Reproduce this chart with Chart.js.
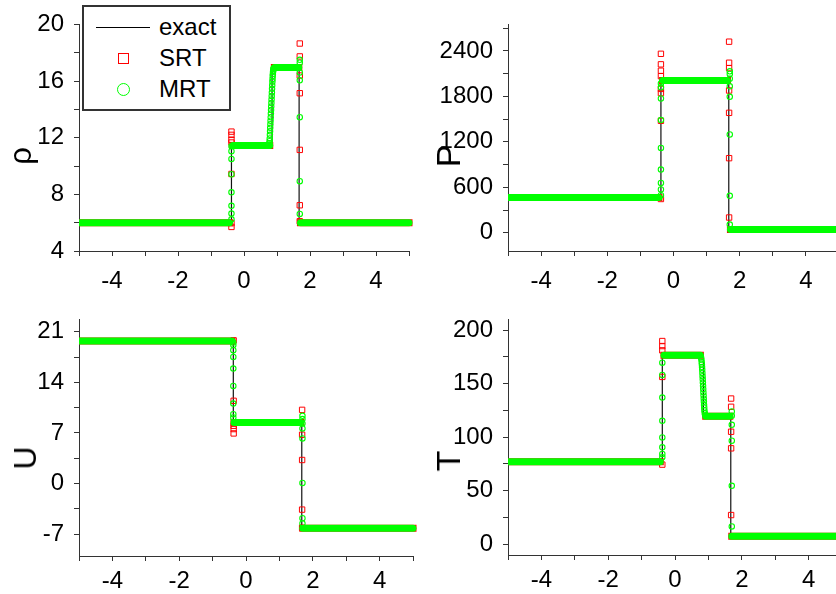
<!DOCTYPE html>
<html>
<head>
<meta charset="utf-8">
<script src="https://cdn.jsdelivr.net/npm/chart.js@4.4.1/dist/chart.umd.min.js"></script>
<style>
  html, body { margin: 0; padding: 0; background: #fff; overflow: hidden; }
  #page { position: relative; width: 836px; height: 594px; overflow: hidden;
          font-family: "Liberation Sans", Arial, sans-serif; color: #000; }
  canvas { position: absolute; }
  .ytitle { position: absolute; line-height: 1; white-space: nowrap;
            transform: translate(-50%, -50%) rotate(-90deg); }
  .lg { position: absolute; }
  .lg-txt { position: absolute; font-size: 24px; line-height: 24px; white-space: nowrap; }
</style>
</head>
<body>
<div id="page">
  <canvas id="cRho" width="420" height="295" style="left:0;top:0"></canvas>
  <canvas id="cP" width="430" height="295" style="left:420px;top:0"></canvas>
  <canvas id="cU" width="420" height="299" style="left:0;top:295px"></canvas>
  <canvas id="cT" width="430" height="299" style="left:420px;top:295px"></canvas>

  <div class="ytitle" style="left:20px;top:156px;font-size:31px">ρ</div>
  <div class="ytitle" style="left:448px;top:156px;font-size:34px">P</div>
  <div class="ytitle" style="left:25px;top:458px;font-size:32px">U</div>
  <div class="ytitle" style="left:448px;top:461px;font-size:34px">T</div>

  <div class="lg" style="left:82px;top:5px;width:149px;height:106px;border:2px solid #333;box-sizing:border-box;background:#fff"></div>
  <div class="lg" style="left:96px;top:27px;width:54px;border-top:1px solid #000"></div>
  <span class="lg-txt" style="left:159px;top:15px">exact</span>
  <div class="lg" style="left:118px;top:53px;width:11px;height:11px;border:1px solid #ff0000;box-sizing:border-box"></div>
  <span class="lg-txt" style="left:159px;top:46px">SRT</span>
  <div class="lg" style="left:117px;top:83px;width:13px;height:13px;border:1.3px solid #00ff00;border-radius:50%;box-sizing:border-box"></div>
  <span class="lg-txt" style="left:159px;top:77px">MRT</span>
</div>
<script>
// tick positions (major + minor)
const xTicks = [-5, -4, -3, -2, -1, 0, 1, 2, 3, 4, 5];
const rhoTicks = [4, 6, 8, 10, 12, 14, 16, 18, 20];
const pTicks = [0, 300, 600, 900, 1200, 1500, 1800, 2100, 2400, 2700];
const uTicks = [-7, -3.5, 0, 3.5, 7, 10.5, 14, 17.5, 21];
const tTicks = [0, 25, 50, 75, 100, 125, 150, 175, 200];

// ---- density rho ----
const rhoExactX = [-5, -0.38, -0.38, 0.85, 0.85, 1.67, 1.67, 5];
const rhoExactY = [6.0, 6.0, 11.45, 11.45, 16.95, 16.95, 6.0, 6.0];
const rhoBands = [[-5, -0.44, 6.0], [-0.34, 0.78, 11.45], [0.92, 1.66, 16.95], [1.71, 5, 6.0]];
const rhoMrtX = [-0.38, -0.38, -0.38, -0.38, -0.38, -0.38, -0.38, -0.38,
  0.77, 0.775, 0.78, 0.785, 0.79, 0.795, 0.80, 0.805, 0.81, 0.815, 0.82, 0.825, 0.83, 0.835,
  0.84, 0.845, 0.85, 0.855, 0.86, 0.865, 0.87, 0.875, 0.88, 0.885, 0.89, 0.90,
  1.69, 1.69, 1.69, 1.69, 1.69, 1.69, 1.69];
const rhoMrtY = [6.24, 6.64, 7.19, 8.14, 9.42, 10.5, 11.05, 11.39,
  11.6, 11.75, 11.95, 12.2, 12.45, 12.7, 12.95, 13.2, 13.45, 13.7, 13.95, 14.2, 14.45, 14.7,
  14.95, 15.2, 15.45, 15.7, 15.95, 16.15, 16.35, 16.5, 16.65, 16.75, 16.85, 16.9,
  6.62, 8.93, 13.45, 16.05, 16.6, 17.3, 17.5];
const rhoSrtX = [-0.38, -0.38, -0.38, -0.38, -0.38, -0.38, -0.38,
  1.69, 1.69, 1.69, 1.69, 1.69, 1.69, 1.69];
const rhoSrtY = [5.7, 5.97, 9.44, 11.66, 11.86, 12.2, 12.43,
  6.1, 7.23, 11.14, 15.14, 16.39, 17.74, 18.65];

// ---- pressure P ----
const pExactX = [-5, -0.38, -0.38, 1.67, 1.67, 5];
const pExactY = [465, 465, 2010, 2010, 45, 45];
const pBands = [[-5, -0.44, 465], [-0.33, 1.63, 2010], [1.72, 5, 45]];
const pMrtX = [-0.38, -0.38, -0.38, -0.38, -0.38, -0.38, -0.38, -0.38, -0.38,
  1.70, 1.70, 1.70, 1.70, 1.70, 1.70, 1.70, 1.70];
const pMrtY = [497, 572, 657, 834, 1120, 1487, 1772, 1920, 1970,
  109, 488, 1297, 1794, 1933, 2034, 2097, 2131];
const pSrtX = [-0.38, -0.38, -0.38, -0.38, -0.38, -0.38, -0.38, -0.38,
  1.68, 1.68, 1.68, 1.68, 1.68, 1.68, 1.68];
const pSrtY = [446, 1478, 1844, 1899, 2067, 2139, 2223, 2362,
  202, 985, 1583, 1878, 2173, 2244, 2522];

// ---- velocity U ----
const uExactX = [-5, -0.38, -0.38, 1.67, 1.67, 5];
const uExactY = [19.7, 19.7, 8.45, 8.45, -6.15, -6.15];
const uBands = [[-5, -0.42, 19.7], [-0.36, 1.64, 8.45], [1.70, 5, -6.15]];
const uMrtX = [-0.38, -0.38, -0.38, -0.38, -0.38, -0.38, -0.38, -0.38, -0.38,
  1.69, 1.69, 1.69, 1.69, 1.69, 1.69, 1.69, 1.69];
const uMrtY = [19.5, 19.17, 18.44, 17.5, 15.9, 13.5, 11.07, 9.6, 9.14,
  9.38, 8.92, 8.32, 7.63, 6.25, 0.09, -4.78, -5.5];
const uSrtX = [-0.37, -0.37, -0.37, -0.37, -0.37, 1.68, 1.68, 1.68, 1.68, 1.68];
const uSrtY = [19.8, 11.45, 8.0, 7.54, 6.94, 10.2, 6.76, 3.27, -3.59, -6.1];

// ---- temperature T ----
const tExactX = [-5, -0.38, -0.38, 0.85, 0.85, 1.67, 1.67, 5];
const tExactY = [77, 77, 176.5, 176.5, 119.5, 119.5, 7.5, 7.5];
const tBands = [[-5, -0.44, 77], [-0.33, 0.76, 176.5], [0.92, 1.64, 119.5], [1.70, 5, 7.5]];
const tMrtX = [-0.38, -0.38, -0.38, -0.38, -0.38, -0.38, -0.38, -0.38,
  0.78, 0.79, 0.80, 0.805, 0.81, 0.815, 0.82, 0.825, 0.83, 0.835, 0.84, 0.845, 0.85,
  0.855, 0.86, 0.865, 0.87, 0.875, 0.88, 0.89, 0.90,
  1.70, 1.70, 1.70, 1.70, 1.70, 1.70];
const tMrtY = [81.2, 84.4, 90.5, 99.8, 115.3, 137, 158.1, 169.6,
  174.5, 172.5, 170, 168, 165.5, 163, 160, 157, 154, 151, 148, 145, 142,
  139, 136, 133, 130, 127.5, 125, 122.5, 121,
  16.7, 54.6, 96.7, 111.6, 120, 124];
const tSrtX = [-0.38, -0.38, -0.38, -0.38, -0.38, 1.68, 1.68, 1.68, 1.68, 1.68];
const tSrtY = [74.4, 156.3, 181.1, 185.1, 189.8, 27.3, 89.6, 105.1, 128.4, 136.1];

const GREEN = '#00ff00';
const RED = '#ff0000';
const AXIS = '#333333';

function pts(xs, ys) {
  return xs.map((x, i) => ({ x: x, y: ys[i] }));
}

function bandSets(bands, color, cap, order) {
  return bands.map(b => ({
    data: [{ x: b[0], y: b[2] }, { x: b[1], y: b[2] }],
    showLine: true,
    borderColor: color,
    borderWidth: 7,
    borderCapStyle: cap,
    pointRadius: 0,
    clip: { left: 0, right: 4, top: 10, bottom: 10 },
    order: order
  }));
}

function axisCommon(tickVals, labelFn, pad) {
  return {
    type: 'linear',
    border: { display: true, color: AXIS, width: 1 },
    grid: { drawOnChartArea: false, drawTicks: true, tickLength: 5, color: AXIS },
    afterBuildTicks: s => { s.ticks = tickVals.map(v => ({ value: v })); },
    ticks: {
      autoSkip: false,
      maxRotation: 0,
      minRotation: 0,
      padding: pad,
      color: '#000',
      font: { family: 'Liberation Sans', size: 24 },
      callback: labelFn
    }
  };
}

function makePanel(id, cfg) {
  const x = axisCommon(xTicks, v => (v % 2 === 0 && Math.abs(v) < 5) ? String(v) : '', cfg.xPad);
  x.min = -5;
  x.max = 5;
  x.position = 'bottom';
  x.afterFit = s => { s.height = cfg.xH; };

  const y = axisCommon(cfg.yTicks, cfg.yLabel, 10);
  y.min = cfg.yMin;
  y.max = cfg.yMax;
  y.position = 'left';
  y.afterFit = s => { s.width = cfg.yW; };

  const datasets = [
    {
      data: pts(cfg.exactX, cfg.exactY),
      showLine: true,
      borderColor: '#111',
      borderWidth: 1.2,
      pointRadius: 0,
      order: 6
    },
    ...bandSets(cfg.bands, RED, 'square', 5),
    {
      data: pts(cfg.srtX, cfg.srtY),
      pointStyle: 'rect',
      pointRadius: 3.8,
      borderColor: RED,
      backgroundColor: 'rgba(0,0,0,0)',
      borderWidth: 1,
      order: 4
    },
    ...bandSets(cfg.bands, GREEN, 'round', 3),
    {
      data: pts(cfg.mrtX, cfg.mrtY),
      pointStyle: 'circle',
      pointRadius: 2.7,
      borderColor: GREEN,
      backgroundColor: 'rgba(0,0,0,0)',
      borderWidth: 1.1,
      order: 2
    }
  ];

  return new Chart(document.getElementById(id), {
    type: 'scatter',
    data: { datasets: datasets },
    options: {
      responsive: false,
      animation: false,
      events: [],
      layout: { padding: { left: 0, bottom: 0, top: cfg.padTop, right: cfg.padRight } },
      plugins: { legend: { display: false }, tooltip: { enabled: false } },
      scales: { x: x, y: y }
    }
  });
}

makePanel('cRho', {
  exactX: rhoExactX, exactY: rhoExactY, bands: rhoBands,
  mrtX: rhoMrtX, mrtY: rhoMrtY, srtX: rhoSrtX, srtY: rhoSrtY,
  yMin: 4, yMax: 20, yTicks: rhoTicks, yLabel: v => v % 4 === 0 ? String(v) : '',
  yW: 79, xH: 44, padTop: 15, padRight: 7, xPad: 11
});

makePanel('cP', {
  exactX: pExactX, exactY: pExactY, bands: pBands,
  mrtX: pMrtX, mrtY: pMrtY, srtX: pSrtX, srtY: pSrtY,
  yMin: -240, yMax: 2750, yTicks: pTicks, yLabel: v => v % 600 === 0 ? String(v) : '',
  yW: 88, xH: 44, padTop: 15, padRight: 8, xPad: 11
});

makePanel('cU', {
  exactX: uExactX, exactY: uExactY, bands: uBands,
  mrtX: uMrtX, mrtY: uMrtY, srtX: uSrtX, srtY: uSrtY,
  yMin: -10, yMax: 22.7, yTicks: uTicks,
  yLabel: v => Math.abs(v / 7 - Math.round(v / 7)) < 1e-6 ? String(Math.round(v)) : '',
  yW: 79, xH: 38, padTop: 24, padRight: 7, xPad: 6
});

makePanel('cT', {
  exactX: tExactX, exactY: tExactY, bands: tBands,
  mrtX: tMrtX, mrtY: tMrtY, srtX: tSrtX, srtY: tSrtY,
  yMin: -10, yMax: 210, yTicks: tTicks, yLabel: v => v % 50 === 0 ? String(v) : '',
  yW: 88, xH: 39, padTop: 24, padRight: 8, xPad: 6
});
</script>
</body>
</html>
